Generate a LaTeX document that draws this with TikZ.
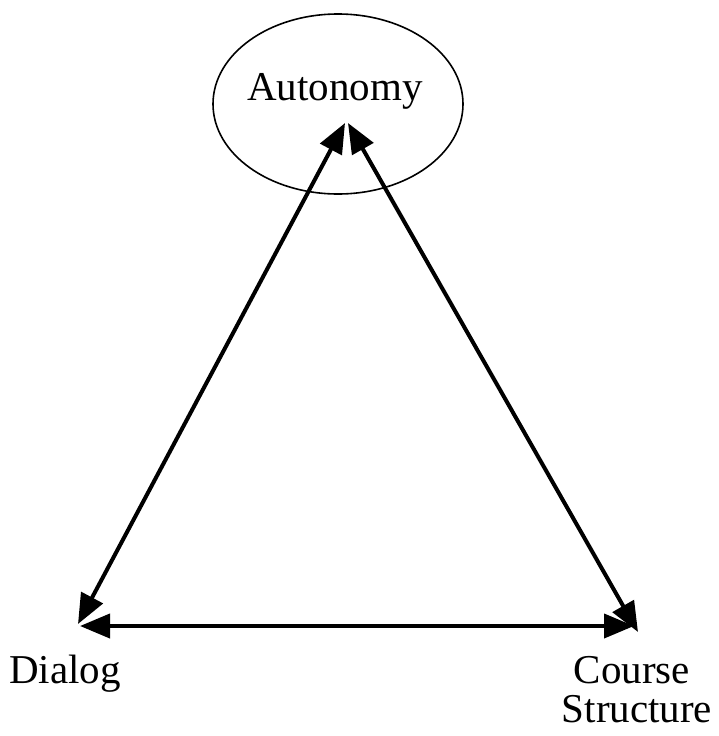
\documentclass[tikz,border=0pt]{standalone}
\usepackage{fontspec}
\setmainfont{Liberation Serif}
\usetikzlibrary{arrows.meta,shapes.geometric}

\begin{document}
\begin{tikzpicture}[x=1pt,y=-1pt,
  label/.style={font=\fontsize{41}{41}\selectfont, inner sep=0pt, anchor=base},
  link/.style={line width=4pt, {Triangle[length=30pt,width=24pt]}-{Triangle[length=30pt,width=24pt]}}]
  \useasboundingbox (0,0) rectangle (719,736);

  % top concept inside an ellipse
  \node[draw, line width=1.6pt, ellipse, minimum width=250pt, minimum height=180pt, inner sep=0pt] (auto) at (338,104) {};
  \node[label] (autotext) at (335,100) {Autonomy};

  % bottom labels
  \node[label] (dialog) at (65,683) {Dialog};
  \node[label] (course) at (632,683) {Course};
  \node[label] (structure) at (637,722) {Structure};

  % arrow end points
  \coordinate (aL) at (345,123);
  \coordinate (aR) at (348,123);
  \coordinate (dD) at (78,624);
  \coordinate (dH) at (80,626);
  \coordinate (cH) at (634,626);
  \coordinate (cD) at (638,632);

  \draw[link] (dD) -- (aL);
  \draw[link] (aR) -- (cD);
  \draw[link] (dH) -- (cH);
\end{tikzpicture}
\end{document}
